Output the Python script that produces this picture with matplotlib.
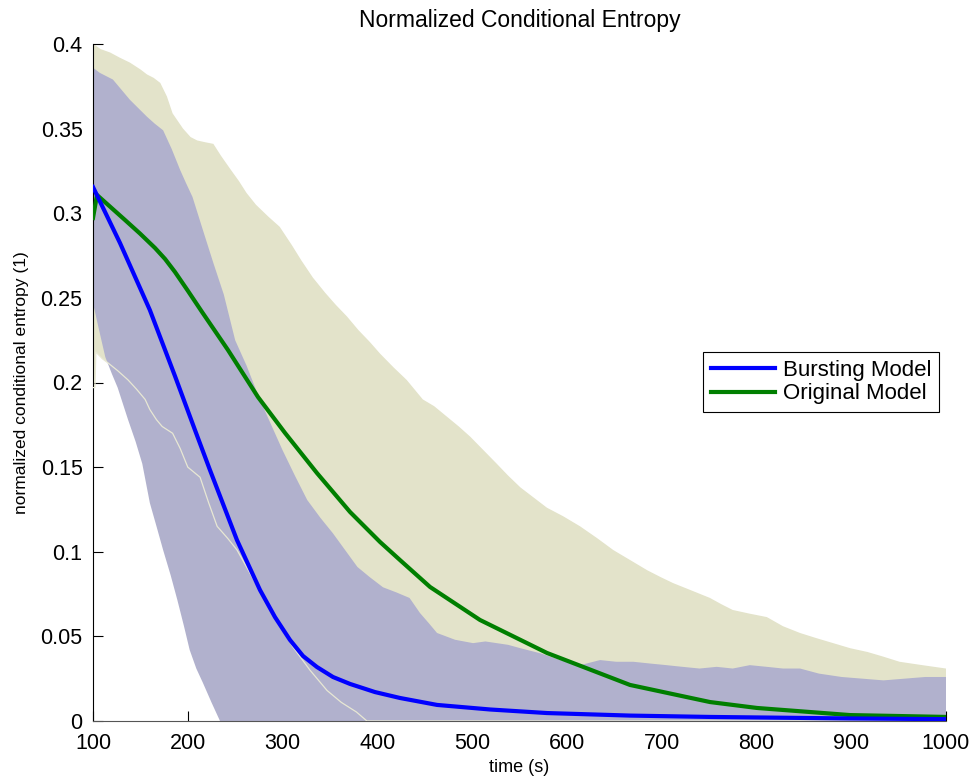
import matplotlib
matplotlib.use("Agg")
import matplotlib.pyplot as plt

plt.rcParams['font.family'] = ['Liberation Sans', 'DejaVu Sans']

# Original model band (upper / lower)
orig_up_x = [100, 103, 108, 118, 128, 139, 150, 157, 164, 171, 178, 184, 195, 203, 210, 218, 227,
             235, 245, 254, 262, 272, 285, 297, 310, 320, 332, 345, 356, 368, 380, 392, 403, 417,
             431, 448, 460, 473, 486, 498, 512, 526, 538, 551, 565, 579, 596, 614, 632, 649, 667,
             685, 699, 712, 732, 751, 763, 775, 793, 811, 828, 846, 863, 881, 899, 917, 934, 951,
             975, 1000]
orig_up_y = [0.400, 0.399, 0.397, 0.395, 0.392, 0.389, 0.385, 0.382, 0.380, 0.377, 0.369, 0.359,
             0.350, 0.345, 0.343, 0.342, 0.341, 0.334, 0.326, 0.319, 0.312, 0.305, 0.298, 0.292,
             0.281, 0.272, 0.262, 0.253, 0.246, 0.239, 0.231, 0.224, 0.217, 0.209, 0.2015, 0.190,
             0.186, 0.180, 0.174, 0.168, 0.160, 0.152, 0.145, 0.138, 0.132, 0.126, 0.121, 0.115,
             0.108, 0.101, 0.095, 0.089, 0.085, 0.0815, 0.077, 0.0727, 0.069, 0.0656, 0.0634,
             0.0614, 0.056, 0.052, 0.049, 0.046, 0.043, 0.0408, 0.038, 0.035, 0.033, 0.031]
orig_lo_x = [100, 102, 103, 110, 116, 126, 137, 146, 155, 160, 167, 173, 184, 192, 200, 213, 222,
             231, 242, 252, 264, 276, 293, 311, 329, 347, 362, 378, 389, 1000]
orig_lo_y = [0.197, 0.197, 0.218, 0.214, 0.2115, 0.207, 0.2015, 0.196, 0.190, 0.184, 0.178,
             0.174, 0.170, 0.161, 0.150, 0.144, 0.129, 0.115, 0.108, 0.101, 0.089, 0.077, 0.060,
             0.0437, 0.030, 0.018, 0.011, 0.0053, 0.0, 0.0]

# Bursting model band (upper / lower)
burst_up_x = [100, 107, 114, 121, 130, 139, 148, 157, 165, 174, 183, 192, 198, 205, 216, 227, 238,
              250, 262, 276, 288, 300, 313, 326, 340, 353, 366, 379, 392, 406, 420, 434, 445, 454,
              463, 482, 501, 514, 526, 538, 551, 572, 593, 614, 635, 652, 670, 687, 705, 722, 740,
              758, 775, 793, 811, 828, 846, 866, 890, 912, 934, 956, 978, 1000]
burst_up_y = [0.386, 0.383, 0.381, 0.379, 0.373, 0.367, 0.362, 0.357, 0.353, 0.349, 0.338, 0.3255,
              0.318, 0.3096, 0.290, 0.2706, 0.252, 0.225, 0.210, 0.190, 0.175, 0.160, 0.145, 0.1306,
              0.120, 0.111, 0.101, 0.091, 0.085, 0.079, 0.076, 0.0727, 0.0638, 0.058, 0.052, 0.048,
              0.046, 0.047, 0.046, 0.045, 0.043, 0.040, 0.036, 0.033, 0.036, 0.035, 0.035, 0.034,
              0.033, 0.032, 0.031, 0.032, 0.031, 0.033, 0.032, 0.031, 0.031, 0.028, 0.026, 0.025,
              0.024, 0.025, 0.026, 0.026]
burst_lo_x = [100, 106, 113, 120, 126, 137, 145, 152, 160, 167, 174, 182, 189, 196, 202, 209, 216,
              225, 234, 1000]
burst_lo_y = [0.247, 0.232, 0.215, 0.205, 0.197, 0.178, 0.165, 0.152, 0.1288, 0.115, 0.101, 0.086,
              0.0715, 0.056, 0.042, 0.031, 0.0225, 0.011, 0.0, 0.0]

# Mean curves
burst_x = [100, 128.5, 160, 186.5, 207.6, 223.4, 251.9, 276.2, 292, 307.8, 321.6, 336.3, 353.2,
           371.2, 397.5, 423.9, 463, 519, 579, 666.6, 751, 898.7, 1000]
burst_y = [0.3155, 0.2824, 0.2428, 0.2038, 0.1719, 0.1483, 0.1069, 0.0774, 0.0614, 0.0479,
           0.0384, 0.0319, 0.0260, 0.0219, 0.0171, 0.0136, 0.0095, 0.0068, 0.0047, 0.0032,
           0.0024, 0.0015, 0.0011]
orig_x = [100, 104.2, 133.8, 149.6, 165.4, 176.0, 186.5, 200.2, 215, 242.4, 274.1, 302.6, 336.3,
          371.2, 402.8, 423.9, 455.6, 508.3, 579, 666.6, 751, 800.6, 898.7, 1000]
orig_y = [0.2972, 0.3108, 0.2960, 0.2880, 0.2795, 0.2730, 0.2653, 0.2541, 0.2417, 0.2192, 0.1914,
          0.1702, 0.1465, 0.1235, 0.1058, 0.0951, 0.0792, 0.0597, 0.0402, 0.0213, 0.0112, 0.0077,
          0.0035, 0.0024]

xticks = [100, 200, 300, 400, 500, 600, 700, 800, 900, 1000]
yticks = [0, 0.05, 0.1, 0.15, 0.2, 0.25, 0.3, 0.35, 0.4]
ytick_labels = ['0', '0.05', '0.1', '0.15', '0.2', '0.25', '0.3', '0.35', '0.4']

fig = plt.figure(figsize=(9.79, 7.79), dpi=100)
ax = fig.add_axes([93 / 979, 1 - 721 / 779, (946 - 93) / 979, (721 - 44) / 779])

ax.fill(orig_up_x + orig_lo_x[::-1], orig_up_y + orig_lo_y[::-1],
        color='#e3e3ca', lw=0, zorder=1)
ax.fill(burst_up_x + burst_lo_x[::-1], burst_up_y + burst_lo_y[::-1],
        color='#b1b1cd', lw=0, zorder=2)
ax.plot(orig_lo_x, orig_lo_y, color='#e8e8d4', lw=0.9, zorder=3)

ax.plot(burst_x, burst_y, color='#0000ff', lw=3, label='Bursting Model', zorder=5,
        solid_joinstyle='round')
ax.plot(orig_x, orig_y, color='#007f00', lw=3, label='Original Model', zorder=4,
        solid_joinstyle='round')

ax.set_xlim(100, 1000)
ax.set_ylim(0, 0.4)
ax.set_xticks(xticks)
ax.set_xticklabels([str(t) for t in xticks])
ax.set_yticks(yticks)
ax.set_yticklabels(ytick_labels)
ax.tick_params(direction='in', length=7, width=0.8, labelsize=15.5)
ax.tick_params(axis='y', pad=7.5)
ax.tick_params(axis='x', pad=8.5)
for s in ['top', 'right']:
    ax.spines[s].set_visible(False)
ax.spines['left'].set_linewidth(0.8)
ax.spines['bottom'].set_linewidth(0.8)
ax.spines['bottom'].set_color('#555555')

ax.set_title('Normalized Conditional Entropy', fontsize=16.5, pad=12)
ax.set_xlabel('time (s)', fontsize=13, labelpad=3.5)
ax.set_ylabel('normalized conditional entropy (1)', fontsize=12.5, labelpad=8)

leg = ax.legend(loc='upper right', bbox_to_anchor=(0.992, 0.545), borderaxespad=0,
                fontsize=16, fancybox=False, framealpha=1, edgecolor='black',
                handlelength=2.9, borderpad=0.35, labelspacing=0.12, handletextpad=0.35)
leg.get_frame().set_linewidth(0.8)

fig.savefig('out.png', dpi=100)
